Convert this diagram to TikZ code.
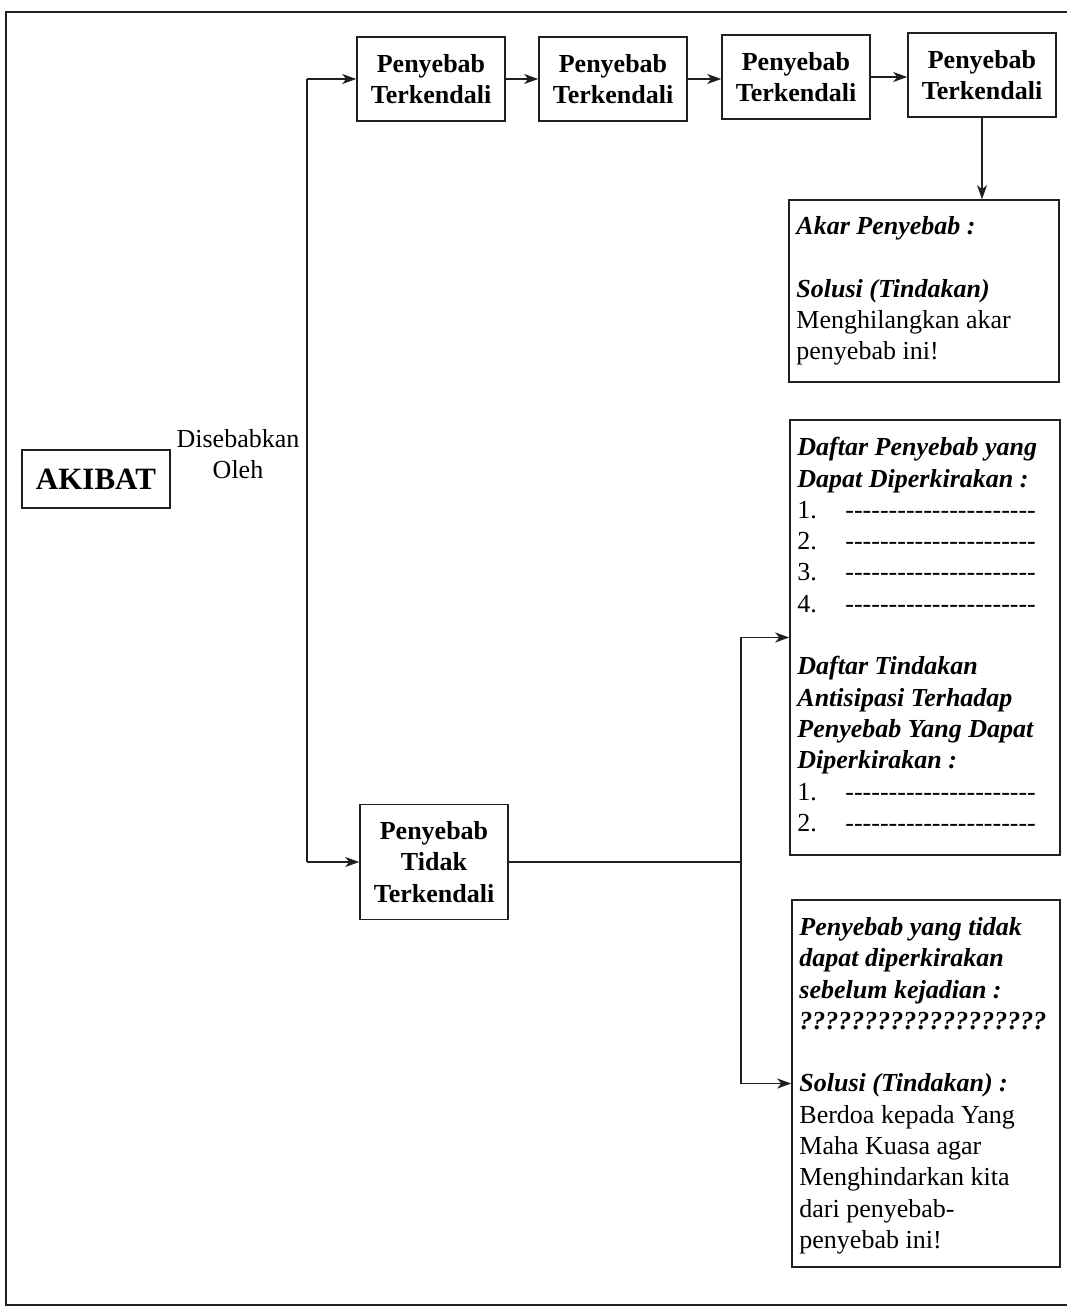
\documentclass[tikz,border=0pt]{standalone}
\usepackage{fontspec}
\setmainfont{Liberation Serif}
\usetikzlibrary{arrows.meta,calc}
% a row of single hyphens used as blank entries in the lists
\newcommand\hy{-\kern0pt}
\newcommand\blankrow{\hy\hy\hy\hy\hy\hy\hy\hy\hy\hy\hy\hy\hy\hy\hy\hy\hy\hy\hy\hy\hy\hy}
\newcommand\listentry[1]{\makebox[48pt][l]{#1}\blankrow}
\newcommand\bi[1]{\textbf{\textit{#1}}}
\begin{document}
\begin{tikzpicture}[x=1pt,y=-1pt,
  line/.style={line width=1.6pt,draw=black!88},
  arr/.style={line,-{Stealth[length=14pt,width=10pt,inset=4pt]}},
  box/.style={line,inner sep=0pt},
  cause/.style={box,minimum width=148pt,minimum height=84pt,align=center,
    font=\bfseries\fontsize{26}{31.5}\selectfont},
  panel/.style={box,minimum width=270pt},
  paneltext/.style={anchor=north west,inner sep=0pt,align=left,
    font=\fontsize{26}{31.3}\selectfont},
]
\useasboundingbox (0,0) rectangle (1067,1308);
% outer frame
\draw[line] (6,12) rectangle (1069,1305);

% effect and its label
\node[box,minimum width=148pt,minimum height=58pt,
  font=\bfseries\fontsize{31}{36}\selectfont] (akibat) at (96,479) {AKIBAT};
\node[inner sep=0pt,align=center,font=\fontsize{26}{31}\selectfont] (oleh) at (238,454)
  {Disebabkan\\Oleh};

% chain of controllable causes
\node[cause] (c1) at (431,79) {Penyebab\\Terkendali};
\node[cause] (c2) at (613,79) {Penyebab\\Terkendali};
\node[cause] (c3) at (796,77) {Penyebab\\Terkendali};
\node[cause] (c4) at (982,75) {Penyebab\\Terkendali};

% uncontrollable cause
\node[cause,minimum height=115pt] (tidak) at (434,862) {Penyebab\\Tidak\\Terkendali};

% right-hand panels
\node[panel,minimum height=182pt] (akar) at (924,291) {};
\node[panel,minimum height=435pt] (daftar) at (925,637.5) {};
\node[panel,minimum width=268pt,minimum height=367pt] (lain) at (926,1083.5) {};

\node[paneltext] (akartxt) at ($(akar.north west)+(8,17)$) {%
  \bi{Akar Penyebab :}\\ \mbox{}\\
  \bi{Solusi (Tindakan)}\\
  Menghilangkan akar\\
  penyebab ini!};

\node[paneltext] (daftartxt) at ($(daftar.north west)+(8,18)$) {%
  \bi{Daftar Penyebab yang}\\
  \bi{Dapat Diperkirakan :}\\
  \listentry{1.}\\ \listentry{2.}\\ \listentry{3.}\\ \listentry{4.}\\ \mbox{}\\
  \bi{Daftar Tindakan}\\
  \bi{Antisipasi Terhadap}\\
  \bi{Penyebab Yang Dapat}\\
  \bi{Diperkirakan :}\\
  \listentry{1.}\\ \listentry{2.}};

\node[paneltext] (laintxt) at ($(lain.north west)+(8,18)$) {%
  \bi{Penyebab yang tidak}\\
  \bi{dapat diperkirakan}\\
  \bi{sebelum kejadian :}\\
  \bi{???????????????????}\\ \mbox{}\\
  \bi{Solusi (Tindakan) :}\\
  Berdoa kepada Yang\\
  Maha Kuasa agar\\
  Menghindarkan kita\\
  dari penyebab-\\
  penyebab ini!};

% connectors
\coordinate (trunk) at (307,79);
\draw[line] (trunk) -- (trunk |- tidak.west);
\draw[arr] (trunk) -- (c1.west);
\draw[arr] (trunk |- tidak.west) -- (tidak.west);
\draw[arr] (c1.east) -- (c2.west);
\draw[arr] (c2.east) -- (c2.east -| c3.west);
\draw[arr] (c3.east) -- (c3.east -| c4.west);
\draw[arr] (c4.south) -- (c4.south |- akar.north);

\coordinate (split) at (741,862);
\draw[line] (tidak.east) -- (split);
\draw[arr] (split) |- (daftar.west);
\draw[arr] (split) |- (lain.west);
\end{tikzpicture}
\end{document}
